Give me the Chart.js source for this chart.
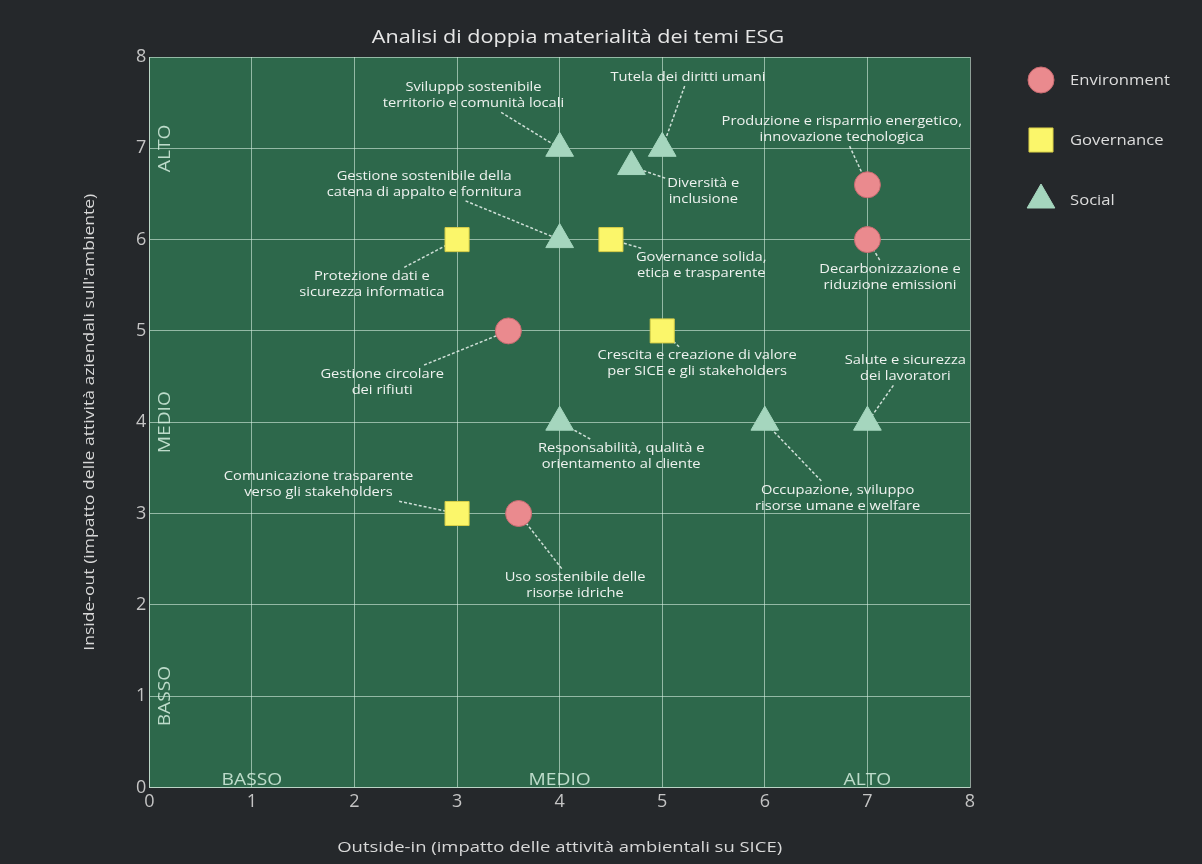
<!DOCTYPE html>
<html>
<head>
<meta charset="utf-8">
<script src="https://cdn.jsdelivr.net/npm/chart.js@4.4.1/dist/chart.umd.min.js"></script>
<style>
    html, body { margin: 0; padding: 0; background: #25282b; }
    canvas { display: block; }
</style>
</head>
<body>
<canvas id="esg-chart" width="1202" height="864"></canvas>
<script>
// topics per pillar (\n = line break in the label)
const envNames = ['Produzione e risparmio energetico,\ninnovazione tecnologica', 'Decarbonizzazione e\nriduzione emissioni', 'Gestione circolare\ndei rifiuti', 'Uso sostenibile delle\nrisorse idriche'];
const envX = [7, 7, 3.5, 3.6];
const envY = [6.6, 6.0, 5.0, 3.0];

const govNames = ['Protezione dati e\nsicurezza informatica', 'Governance solida,\netica e trasparente', 'Crescita e creazione di valore\nper SICE e gli stakeholders', 'Comunicazione trasparente\nverso gli stakeholders'];
const govX = [3, 4.5, 5, 3];
const govY = [6, 6, 5, 3];

const socNames = ['Sviluppo sostenibile\nterritorio e comunità locali', 'Tutela dei diritti umani', 'Diversità e\ninclusione', 'Gestione sostenibile della\ncatena di appalto e fornitura', 'Responsabilità, qualità e\norientamento al cliente', 'Occupazione, sviluppo\nrisorse umane e welfare', 'Salute e sicurezza\ndei lavoratori'];
const socX = [4, 5, 4.7, 4, 4, 6, 7];
const socY = [7, 7, 6.8, 6, 4, 4, 4];

const levelTicks = [1, 4, 7];
const levelNames = ['BASSO', 'MEDIO', 'ALTO'];

const chartTitle = 'Analisi di doppia materialità dei temi ESG';
const xTitle = 'Outside-in (impatto delle attività ambientali su SICE)';
const yTitle = "Inside-out (impatto delle attività aziendali sull'ambiente)";

// where each label sits (axis units), same order as the names above
const envLabelAt = [[6.75, 7.21], [7.22, 5.59], [2.27, 4.44], [4.15, 2.21]];
const govLabelAt = [[2.17, 5.51], [5.38, 5.72], [5.34, 4.64], [1.65, 3.32]];
const socLabelAt = [[3.16, 7.58], [5.25, 7.78], [5.40, 6.53], [2.68, 6.61], [4.60, 3.63], [6.71, 3.17], [7.37, 4.59]];

const FONT = "'Open Sans', 'Noto Sans', sans-serif";

function toPoints(xs, ys, names) {
    return xs.map((x, i) => ({x: x, y: ys[i], name: names[i]}));
}

// the original text is a bit wider than Open Sans, stretch it horizontally
function wideText(ctx, text, x, y, sx, angle) {
    ctx.save();
    ctx.translate(x, y);
    if (angle) ctx.rotate(angle);
    ctx.scale(sx, 1);
    ctx.fillText(text, 0, 0);
    ctx.restore();
}

const plotBackground = {
    id: 'plotBackground',
    beforeDraw(chart) {
        const {ctx, chartArea: a} = chart;
        ctx.save();
        ctx.fillStyle = '#25282b';
        ctx.fillRect(0, 0, chart.width, chart.height);
        ctx.fillStyle = '#2d684b';
        ctx.fillRect(a.left, a.top, a.width, a.height);
        ctx.restore();
    }
};

const levelLabels = {
    id: 'levelLabels',
    beforeDatasetsDraw(chart) {
        const {ctx, chartArea: a, scales} = chart;
        ctx.save();
        ctx.fillStyle = 'rgba(215, 240, 225, 0.85)';
        ctx.font = '16px ' + FONT;
        ctx.textAlign = 'center';
        ctx.textBaseline = 'bottom';
        levelTicks.forEach((v, i) => {
            wideText(ctx, levelNames[i], scales.x.getPixelForValue(v), a.bottom + 1, 1.2);
        });
        ctx.textBaseline = 'middle';
        levelTicks.forEach((v, i) => {
            wideText(ctx, levelNames[i], a.left + 16, scales.y.getPixelForValue(v), 1.2, -Math.PI / 2);
        });
        ctx.restore();
    }
};

const topicLabels = {
    id: 'topicLabels',
    beforeDatasetsDraw(chart) {
        const {ctx, scales} = chart;
        const lineH = 16;
        const sx = 1.13;
        ctx.save();
        ctx.font = '13px ' + FONT;
        chart.data.datasets.forEach(ds => {
            ds.data.forEach((p, i) => {
                const lines = p.name.split('\n');
                const cx = scales.x.getPixelForValue(ds.labelAt[i][0]);
                const cy = scales.y.getPixelForValue(ds.labelAt[i][1]);
                const px = scales.x.getPixelForValue(p.x);
                const py = scales.y.getPixelForValue(p.y);
                const hw = Math.max(...lines.map(l => ctx.measureText(l).width)) * sx / 2 + 2;
                const hh = lines.length * lineH / 2 + 1;
                const dx = px - cx, dy = py - cy;
                const t = Math.min(dx ? hw / Math.abs(dx) : Infinity, dy ? hh / Math.abs(dy) : Infinity);
                if (t < 1) {
                    ctx.beginPath();
                    ctx.setLineDash([3, 2]);
                    ctx.lineWidth = 1.5;
                    ctx.strokeStyle = 'rgba(235, 245, 240, 0.85)';
                    ctx.moveTo(cx + dx * t, cy + dy * t);
                    ctx.lineTo(px, py);
                    ctx.stroke();
                }
                ctx.fillStyle = '#eef2ef';
                ctx.textAlign = 'center';
                ctx.textBaseline = 'middle';
                lines.forEach((l, k) => {
                    wideText(ctx, l, cx, cy + (k - (lines.length - 1) / 2) * lineH, sx);
                });
            });
        });
        ctx.restore();
    }
};

const titlesAndLegend = {
    id: 'titlesAndLegend',
    afterDraw(chart) {
        const {ctx, chartArea: a} = chart;
        ctx.save();
        ctx.textAlign = 'center';
        ctx.textBaseline = 'middle';
        ctx.fillStyle = '#e6e6e6';
        ctx.font = '18px ' + FONT;
        wideText(ctx, chartTitle, 578, 38, 1.2);

        ctx.fillStyle = '#d8d8d8';
        ctx.font = '15px ' + FONT;
        wideText(ctx, xTitle, (a.left + a.right) / 2, 848, 1.23);
        wideText(ctx, yTitle, 90, (a.top + a.bottom) / 2, 1.17, -Math.PI / 2);

        ctx.textAlign = 'left';
        chart.data.datasets.forEach((ds, i) => {
            const y = 80 + i * 60;
            ctx.fillStyle = ds.backgroundColor;
            ctx.strokeStyle = ds.borderColor;
            Chart.helpers.drawPoint(ctx, {pointStyle: ds.pointStyle, radius: ds.pointRadius, rotation: 0, borderWidth: 1}, 1041, y);
            ctx.fillStyle = '#dcdcdc';
            wideText(ctx, ds.label, 1070, y + 1, 1.11);
        });
        ctx.restore();
    }
};

const gridColor = 'rgba(215, 240, 225, 0.6)';

new Chart(document.getElementById('esg-chart'), {
    type: 'scatter',
    data: {
        datasets: [{
            label: 'Environment',
            data: toPoints(envX, envY, envNames),
            labelAt: envLabelAt,
            pointStyle: 'circle',
            pointRadius: 13,
            pointHoverRadius: 13,
            backgroundColor: '#ea8a8e',
            borderColor: '#c86a70',
            borderWidth: 1
        }, {
            label: 'Governance',
            data: toPoints(govX, govY, govNames),
            labelAt: govLabelAt,
            pointStyle: 'rect',
            pointRadius: 17,
            pointHoverRadius: 17,
            backgroundColor: '#fbf66a',
            borderColor: '#d8cf48',
            borderWidth: 1
        }, {
            label: 'Social',
            data: toPoints(socX, socY, socNames),
            labelAt: socLabelAt,
            pointStyle: 'triangle',
            pointRadius: 16,
            pointHoverRadius: 16,
            backgroundColor: '#a5d6be',
            borderColor: '#a5d6be',
            borderWidth: 1
        }]
    },
    options: {
        responsive: false,
        animation: false,
        layout: {
            // room for the axis titles and the legend, drawn by the plugin
            padding: {left: 133, right: 232, top: 57, bottom: 47}
        },
        plugins: {
            legend: {display: false},
            title: {display: false},
            tooltip: {enabled: false}
        },
        scales: {
            x: {
                min: 0,
                max: 8,
                ticks: {stepSize: 1, color: '#c4c4c4', font: {size: 18, family: FONT}, padding: 4},
                grid: {color: gridColor, drawTicks: false},
                border: {color: gridColor}
            },
            y: {
                min: 0,
                max: 8,
                ticks: {stepSize: 1, color: '#c4c4c4', font: {size: 18, family: FONT}, padding: 3},
                grid: {color: gridColor, drawTicks: false},
                border: {color: gridColor}
            }
        }
    },
    plugins: [plotBackground, levelLabels, topicLabels, titlesAndLegend]
});
</script>
</body>
</html>
